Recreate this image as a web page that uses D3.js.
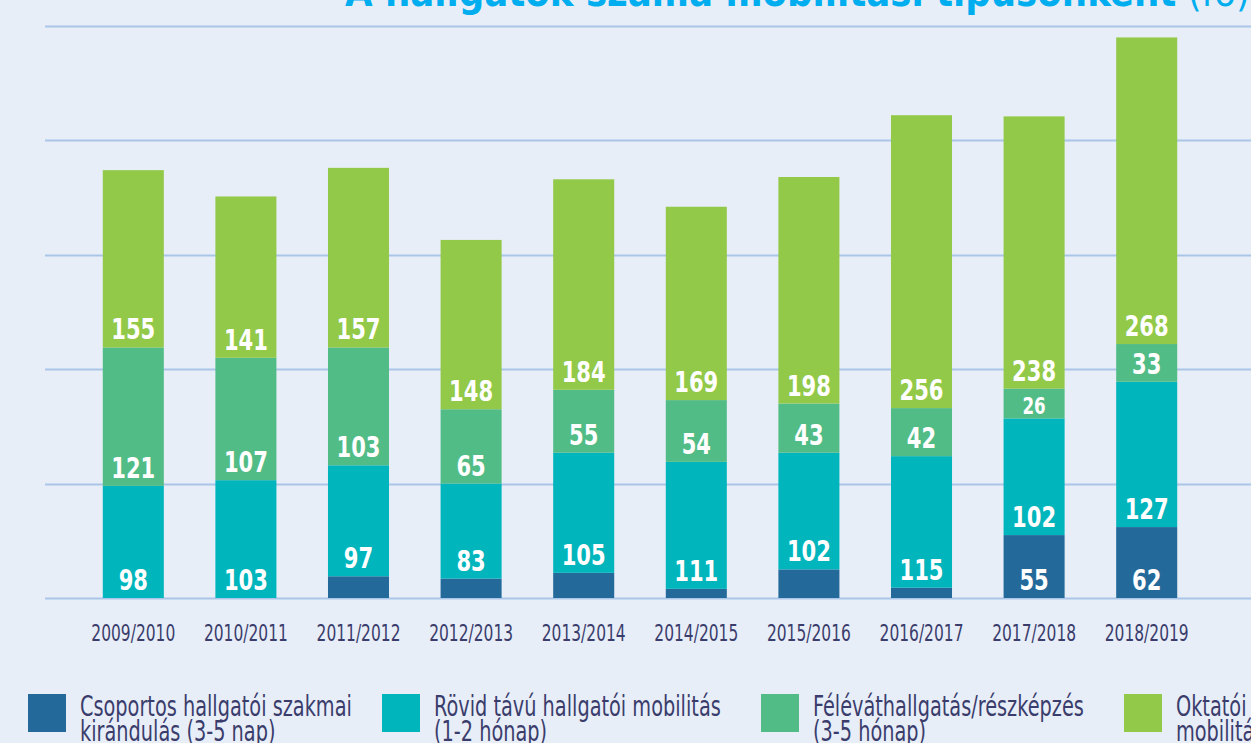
<!DOCTYPE html>
<html>
<head>
<meta charset="utf-8">
<script src="https://cdn.jsdelivr.net/npm/d3@7"></script>
<style>
  html, body { margin: 0; padding: 0; background: #e8eef8; overflow: hidden; }
  svg { display: block; }
  .narrow { font-family: 'Liberation Sans Narrow', 'DejaVu Sans Condensed', 'Arial Narrow', 'DejaVu Sans', sans-serif; }
</style>
</head>
<body>
<svg id="chart" width="1251" height="743"></svg>
<script>
// ---- data ----
const categories = ["2009/2010","2010/2011","2011/2012","2012/2013","2013/2014","2014/2015","2015/2016","2016/2017","2017/2018","2018/2019"];
const csoportos   = [0, 0, 19, 17, 22, 8, 25, 9, 55, 62];
const rovid       = [98, 103, 97, 83, 105, 111, 102, 115, 102, 127];
const felevat     = [121, 107, 103, 65, 55, 54, 43, 42, 26, 33];
const oktatoi     = [155, 141, 157, 148, 184, 169, 198, 256, 238, 268];
const legendLines = [["Csoportos hallgatói szakmai", "kirándulás (3-5 nap)"], ["Rövid távú hallgatói mobilitás", "(1-2 hónap)"], ["Féléváthallgatás/részképzés", "(3-5 hónap)"], ["Oktatói", "mobilitás"]];
const labelShown  = [[false,false,false,false,false,false,false,false,true,true], null, null, null];
const yTicks = [0, 100, 200, 300, 400, 500];
const titleMain = "A hallgatók száma mobilitási típusonként";
const titleUnit = " (fő)";

// ---- styles ----
const colors = ["#236a9a", "#00b5bc", "#52bc86", "#93c948"];
const bg = "#e8eef8";
const gridColor = "#a9c5e7";
const textColor = "#3a3d6c";

const svg = d3.select("#chart");
svg.append("rect").attr("width", 1251).attr("height", 743).attr("fill", bg);

// measure helper to compress text horizontally (condensed look)
function measure(str, size, weight) {
  const t = svg.append("text").attr("class", "narrow").attr("font-size", size)
    .attr("font-weight", weight || "normal").text(str);
  const w = t.node().getComputedTextLength();
  t.remove();
  return w;
}
function condense(sel, k) {
  sel.each(function() {
    const t = d3.select(this);
    const ax = +t.attr("x") || 0;
    t.attr("transform", `translate(${ax},0) scale(${k},1) translate(${-ax},0)`);
  });
}

const x = d3.scaleBand().domain(categories).range([77, 1203]).paddingInner(0.458).paddingOuter(0.229);
const y = d3.scaleLinear().domain([0, 500]).range([598, 26]);

// title (cropped at top)
const title = svg.append("text").attr("class", "narrow")
  .attr("x", 345).attr("y", 6)
  .attr("fill", "#00aeef").attr("font-size", 40);
title.append("tspan").attr("font-weight", "bold").text(titleMain);
title.append("tspan").text(titleUnit);
{
  const w = title.node().getComputedTextLength();
  condense(title, 905 / w);
}

// gridlines
svg.append("g").selectAll("line").data(yTicks).join("line")
  .attr("x1", 45).attr("x2", 1251)
  .attr("y1", d => Math.round(y(d)) + 0.5).attr("y2", d => Math.round(y(d)) + 0.5)
  .attr("stroke", gridColor).attr("stroke-width", 2);

// stack
const table = categories.map((c, i) => ({cat: c, s0: csoportos[i], s1: rovid[i], s2: felevat[i], s3: oktatoi[i]}));
const keys = ["s0", "s1", "s2", "s3"];
const stacked = d3.stack().keys(keys)(table);

const layers = svg.append("g").selectAll("g").data(stacked).join("g")
  .attr("fill", (d, i) => colors[i]);
layers.selectAll("rect").data(d => d).join("rect")
  .attr("x", d => x(d.data.cat))
  .attr("width", x.bandwidth())
  .attr("y", d => y(d[1]))
  .attr("height", d => y(d[0]) - y(d[1]));

// value labels
const kVal = 44 / measure("105", 29, "bold");
stacked.forEach((layer, li) => {
  const g = svg.append("g").selectAll("text").data(layer.filter((d, i) => {
      const v = d[1] - d[0];
      if (v <= 0) return false;
      if (labelShown[li]) return labelShown[li][i];
      return true;
    })).join("text")
    .attr("class", "narrow")
    .attr("x", d => x(d.data.cat) + x.bandwidth() / 2)
    .attr("y", d => {
      const h = y(d[0]) - y(d[1]);
      return y(d[0]) - (h < 34 ? 4 : 8);
    })
    .attr("text-anchor", "middle")
    .attr("fill", "#ffffff")
    .attr("font-weight", "bold")
    .attr("font-size", d => (y(d[0]) - y(d[1])) < 34 ? 23 : 29)
    .text(d => d[1] - d[0]);
  condense(g, kVal);
});

// x axis labels
const xAxis = d3.axisBottom(x).tickSize(0).tickPadding(0);
const gx = svg.append("g").attr("transform", "translate(0,641)").call(xAxis);
gx.select(".domain").remove();
const kX = 84 / measure("2009/2010", 23);
gx.selectAll("text").attr("class", "narrow").attr("font-size", 23).attr("fill", textColor)
  .attr("dy", 0).attr("y", 0).attr("x", 0);
condense(gx.selectAll("text"), kX);

// legend
const legendX = [28, 382, 761, 1124];
const kL = 272 / measure("Csoportos hallgatói szakmai", 28);
const lg = svg.append("g").selectAll("g").data(legendLines).join("g")
  .attr("transform", (d, i) => `translate(${legendX[i]},694)`);
lg.append("rect").attr("width", 38).attr("height", 38).attr("fill", (d, i) => colors[i]);
lg.each(function(lines) {
  const t = d3.select(this).append("text").attr("class", "narrow")
    .attr("x", 52).attr("y", 22).attr("font-size", 28).attr("fill", textColor);
  lines.forEach((ln, j) => t.append("tspan").attr("x", 52).attr("y", 22 + j * 25).text(ln));
  condense(t, kL);
});
</script>
</body>
</html>
